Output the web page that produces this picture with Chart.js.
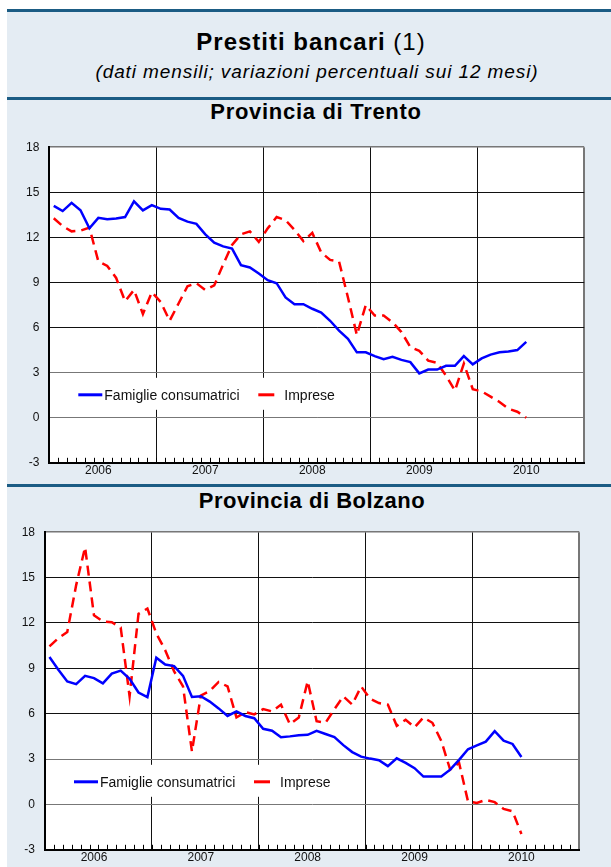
<!DOCTYPE html>
<html lang="it">
<head>
<meta charset="utf-8">
<title>Prestiti bancari</title>
<script src="https://cdn.jsdelivr.net/npm/chart.js@4.4.0/dist/chart.umd.min.js"></script>
<style>
  body { margin: 0; width: 611px; height: 867px; position: relative; overflow: hidden; background: #fff;
         font-family: "Liberation Sans", Arial, Helvetica, sans-serif; color: #000; }
  .panel { position: absolute; left: 7px; top: 9px; width: 604px; height: 858px; background: #e4ecf3; }
  .rule { position: absolute; left: 7px; width: 604px; height: 3px; background: #1b5c84; }
  .title { position: absolute; white-space: nowrap; transform: translateX(-50%); }
  .box { position: absolute; left: 0; width: 611px; }
</style>
</head>
<body>
<div class="panel"></div>
<div class="rule" style="top:9px"></div>
<div class="rule" style="top:97px"></div>
<div class="rule" style="top:484px"></div>

<div class="title" style="left:311px; top:30px; font-size:24px; line-height:24px; letter-spacing:1px"><b>Prestiti bancari</b> (1)</div>
<div class="title" style="left:317px; top:62px; font-size:19px; line-height:19px; font-style:italic; letter-spacing:0.9px">(dati mensili; variazioni percentuali sui 12 mesi)</div>
<div class="title" style="left:316px; top:101px; font-size:22px; line-height:22px; font-weight:bold; letter-spacing:0.7px">Provincia di Trento</div>
<div class="title" style="left:312px; top:490px; font-size:22px; line-height:22px; font-weight:bold; letter-spacing:0.5px">Provincia di Bolzano</div>

<div class="box" style="top:130px; height:350px"><canvas id="trento-chart"></canvas></div>
<div class="box" style="top:515px; height:352px"><canvas id="bolzano-chart"></canvas></div>

<script>
// categories and tick labels
const years = ["2006", "2007", "2008", "2009", "2010"]
const monthNames = ["gen", "feb", "mar", "apr", "mag", "giu", "lug", "ago", "set", "ott", "nov", "dic"]
const yTicks = [-3, 0, 3, 6, 9, 12, 15, 18]
const seriesLabels = ["Famiglie consumatrici", "Imprese"]

// monthly values, gen 2006 - giu 2010
const trentoFamiglie = [14.1, 13.75, 14.3, 13.8, 12.6, 13.3, 13.2, 13.25, 13.35, 14.4, 13.8, 14.15,
  13.9, 13.85, 13.3, 13.05, 12.9, 12.2, 11.65, 11.4, 11.25, 10.15, 10.0, 9.6,
  9.15, 8.95, 8.0, 7.55, 7.55, 7.25, 7.0, 6.45, 5.8, 5.25, 4.35, 4.35,
  4.1, 3.9, 4.05, 3.85, 3.7, 2.95, 3.2, 3.2, 3.45, 3.45, 4.1, 3.55,
  3.95, 4.2, 4.35, 4.4, 4.5, 5.05]
const trentoImprese = [13.27, 12.75, 12.4, 12.45, 12.65, 10.4, 10.1, 9.3, 7.75, 8.5, 6.9, 8.35,
  7.7, 6.45, 7.6, 8.75, 8.95, 8.5, 8.8, 10.2, 11.5, 12.2, 12.4, 11.7,
  12.6, 13.35, 13.15, 12.5, 11.75, 12.3, 11.0, 10.5, 10.4, 8.0, 5.5, 7.5,
  6.8, 6.8, 6.35, 5.7, 4.7, 4.45, 3.8, 3.65, 2.8, 1.8, 3.6, 1.9,
  1.75, 1.4, 1.05, 0.6, 0.4, 0.0]
const bolzanoFamiglie = [9.75, 8.9, 8.13, 7.95, 8.5, 8.35, 8.0, 8.65, 8.85, 8.3, 7.4, 7.1,
  9.7, 9.25, 9.15, 8.5, 7.1, 7.15, 6.8, 6.35, 5.85, 6.15, 5.85, 5.7,
  5.0, 4.87, 4.44, 4.5, 4.58, 4.6, 4.87, 4.66, 4.45, 3.92, 3.46, 3.16,
  3.03, 2.92, 2.53, 3.05, 2.75, 2.4, 1.84, 1.84, 1.84, 2.3, 2.95, 3.65,
  3.9, 4.15, 4.85, 4.22, 4.0, 3.14]
const bolzanoImprese = [10.45, 11.0, 11.4, 14.5, 17.0, 12.5, 12.1, 12.05, 11.7, 7.15, 12.6, 12.95,
  11.3, 10.2, 8.8, 7.8, 3.5, 7.2, 7.5, 8.1, 7.8, 5.75, 6.1, 5.95,
  6.3, 6.15, 6.6, 5.3, 5.75, 8.15, 5.5, 5.4, 6.3, 7.15, 6.6, 7.8,
  7.0, 6.7, 6.6, 5.2, 5.6, 5.1, 5.75, 5.4, 4.2, 2.3, 2.75, 0.2,
  0.1, 0.3, 0.15, -0.3, -0.45, -1.95]

const monthLabels = years.flatMap((y) => monthNames.map((m) => m + " " + y))
const fontFamily = "'Liberation Sans', Arial, Helvetica, sans-serif"

// white plot area on the blue page
const plotBackground = {
  id: "plotBackground",
  beforeDraw(chart) {
    let a = chart.chartArea
    chart.ctx.save()
    chart.ctx.fillStyle = "#fff"
    chart.ctx.fillRect(a.left, a.top, a.right - a.left, a.bottom - a.top)
    chart.ctx.restore()
  },
}

// small month ticks pointing up from the time axis
const monthTicks = {
  id: "monthTicks",
  afterDatasetsDraw(chart) {
    let x = chart.scales.x
    let a = chart.chartArea
    let half = (x.getPixelForValue(1) - x.getPixelForValue(0)) / 2
    let ctx = chart.ctx
    ctx.save()
    ctx.strokeStyle = "#000"
    ctx.lineWidth = 1
    ctx.beginPath()
    for (let i = 1; i < monthLabels.length; i++) {
      let px = Math.round(x.getPixelForValue(i) - half) + 0.5
      ctx.moveTo(px, a.bottom)
      ctx.lineTo(px, a.bottom - 5)
    }
    ctx.stroke()
    ctx.restore()
  },
}

// legend drawn inside the plot, on a white band
const innerLegend = {
  id: "innerLegend",
  beforeDatasetsDraw(chart) {
    let ctx = chart.ctx
    let a = chart.chartArea
    let y = a.bottom - 68
    ctx.save()
    ctx.fillStyle = "#fff"
    ctx.fillRect(a.left + 21, a.bottom - 85, 279, 32)
    ctx.font = "14px " + fontFamily
    ctx.textBaseline = "middle"
    let itemX = [29, 209]
    let itemLen = [24, 16]
    chart.data.datasets.forEach(function (ds, i) {
      let x0 = a.left + itemX[i]
      ctx.strokeStyle = ds.borderColor
      ctx.lineWidth = 3
      ctx.beginPath()
      ctx.moveTo(x0, y)
      ctx.lineTo(x0 + itemLen[i], y)
      ctx.stroke()
      ctx.fillStyle = "#111"
      ctx.fillText(ds.label, x0 + 26, y + 1)
    })
    ctx.restore()
  },
}

function initializeChart(canvasId, famiglie, imprese, yAxisWidth, padding) {
  let ctx = document.getElementById(canvasId).getContext("2d")
  return new Chart(ctx, {
    type: "line",
    data: {
      labels: monthLabels,
      datasets: [
        {
          label: seriesLabels[0],
          data: famiglie,
          borderColor: "#0000ff",
          borderWidth: 2.5,
          pointRadius: 0,
          tension: 0,
          fill: false,
        },
        {
          label: seriesLabels[1],
          data: imprese,
          borderColor: "#ff0000",
          borderWidth: 2.5,
          borderDash: [10, 6],
          pointRadius: 0,
          tension: 0,
          fill: false,
        },
      ],
    },
    options: {
      responsive: true,
      maintainAspectRatio: false,
      animation: false,
      layout: { padding: padding },
      plugins: {
        legend: { display: false },
        tooltip: { enabled: false },
      },
      scales: {
        x: {
          offset: true,
          grid: {
            offset: true,
            drawTicks: false,
            color: (c) => (c.index === undefined ? "#777" : c.index % 12 === 0 ? "#111" : "rgba(0,0,0,0)"),
            lineWidth: (c) => (c.index === undefined ? 2 : 1),
          },
          border: { color: "#000", width: 2 },
          ticks: {
            autoSkip: false,
            maxRotation: 0,
            padding: 1,
            color: "#111",
            font: { family: fontFamily, size: 12 },
            callback: (v, i) => (i % 12 === 5 ? years[Math.floor(i / 12)] : ""),
          },
          afterFit: (scale) => {
            scale.height = 16
          },
        },
        y: {
          min: yTicks[0],
          max: yTicks[yTicks.length - 1],
          ticks: {
            stepSize: yTicks[1] - yTicks[0],
            padding: 10,
            color: "#111",
            font: { family: fontFamily, size: 12 },
          },
          grid: {
            drawTicks: false,
            color: (c) => (c.tick.value === 18 || c.tick.value === 3 || c.tick.value === 0 ? "#777" : "#111"),
            lineWidth: (c) => (c.tick.value === 18 ? 1.5 : 1),
          },
          border: { color: "#000", width: 2 },
          afterFit: (scale) => {
            scale.width = yAxisWidth
          },
        },
      },
    },
    plugins: [plotBackground, monthTicks, innerLegend],
  })
}

initializeChart("trento-chart", trentoFamiglie, trentoImprese, 49.3, { top: 10.7, right: 26.8, bottom: 0, left: 0 })
initializeChart("bolzano-chart", bolzanoFamiglie, bolzanoImprese, 45, { top: 13.3, right: 31.7, bottom: 0, left: 0 })
</script>
</body>
</html>
